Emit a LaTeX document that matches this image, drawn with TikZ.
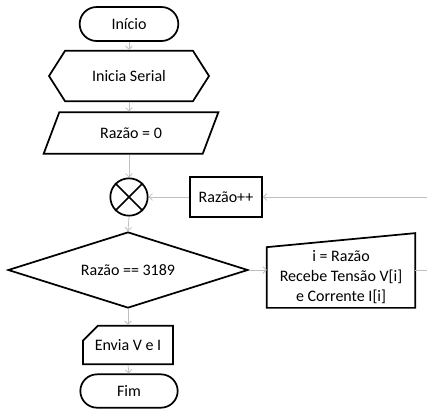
\documentclass[tikz,border=0pt]{standalone}
\usepackage{fontspec}
\setmainfont{Carlito}
\usetikzlibrary{shapes.geometric, shapes.misc, shapes.symbols, arrows.meta, positioning, calc}
\tikzstyle{blk} = [draw=black, line width=1.3pt, font=\fontsize{12}{15}\selectfont,
  align=center, inner sep=2pt]
\tikzstyle{arw} = [-{Straight Barb[length=2.5pt,width=5pt]}, color=gray!50, line width=0.6pt]
\tikzstyle{lnk} = [color=gray!50, line width=0.6pt]

\begin{document}
\begin{tikzpicture}[x=0.75pt, y=-0.75pt]
  \useasboundingbox (0,0) rectangle (427,412);

  % Main column
  \node[blk, rounded rectangle, minimum width=78pt, minimum height=25.5pt] (start) at (129,24) {Início};
  \node[blk, signal, signal to=west and east, signal pointer angle=115,
        minimum width=120pt, minimum height=38pt] (ser) at (129,76) {Inicia Serial};
  \node[blk, trapezium, trapezium left angle=46, trapezium right angle=134, trapezium stretches body,
        minimum width=131pt, minimum height=31pt] (init) at (131,133) {Razão = 0};
  \node[blk, circle, minimum size=28pt, inner sep=0pt] (sum) at (129,197) {};
  \draw[line width=1.3pt] (sum.north west) -- (sum.south east);
  \draw[line width=1.3pt] (sum.north east) -- (sum.south west);
  \node[blk, diamond, aspect=3, minimum width=180pt, minimum height=57pt] (dec) at (128,270) {Razão == 3189};
  \node[blk, chamfered rectangle, chamfered rectangle corners=north west,
        chamfered rectangle xsep=12pt, chamfered rectangle ysep=5pt,
        minimum width=67.5pt, minimum height=29pt] (send) at (128,345) {Envia V e I};
  \node[blk, rounded rectangle, minimum width=77pt, minimum height=25pt] (stop) at (129,391) {Fim};

  % Loop side
  \node[blk, rectangle, minimum width=54pt, minimum height=30pt] (inc) at (226,197) {Razão++};
  \node[blk, draw=none, minimum width=110pt, minimum height=45pt] (rd) at (341,277)
       {i = Razão\\Recebe Tensão V[i]\\e Corrente I[i]};
  \draw[line width=1.3pt] (rd.south west) -- ($(rd.north west)+(0,1)$) -- ($(rd.north east)+(0,-13)$)
       -- (rd.south east) -- cycle;
  \coordinate (outR) at (427,270);
  \coordinate (inR) at (427,197);

  % Arrows
  \draw[arw] (start.south) -- (ser.north);
  \draw[arw] (ser.south) -- (ser.south |- init.north);
  \draw[arw] (sum.north |- init.south) -- (sum.north);
  \draw[arw] (sum.south) -- (dec.north);
  \draw[arw] (dec.south) -- (send.north);
  \draw[arw] (send.south) -- (stop.north);
  \draw[arw] (dec.east) -- (dec.east -| rd.west);
  \draw[lnk] (rd.east |- outR) -- (outR);
  \draw[arw] (inR) -- (inc.east);
  \draw[arw] (inc.west) -- (sum.east);
\end{tikzpicture}
\end{document}
